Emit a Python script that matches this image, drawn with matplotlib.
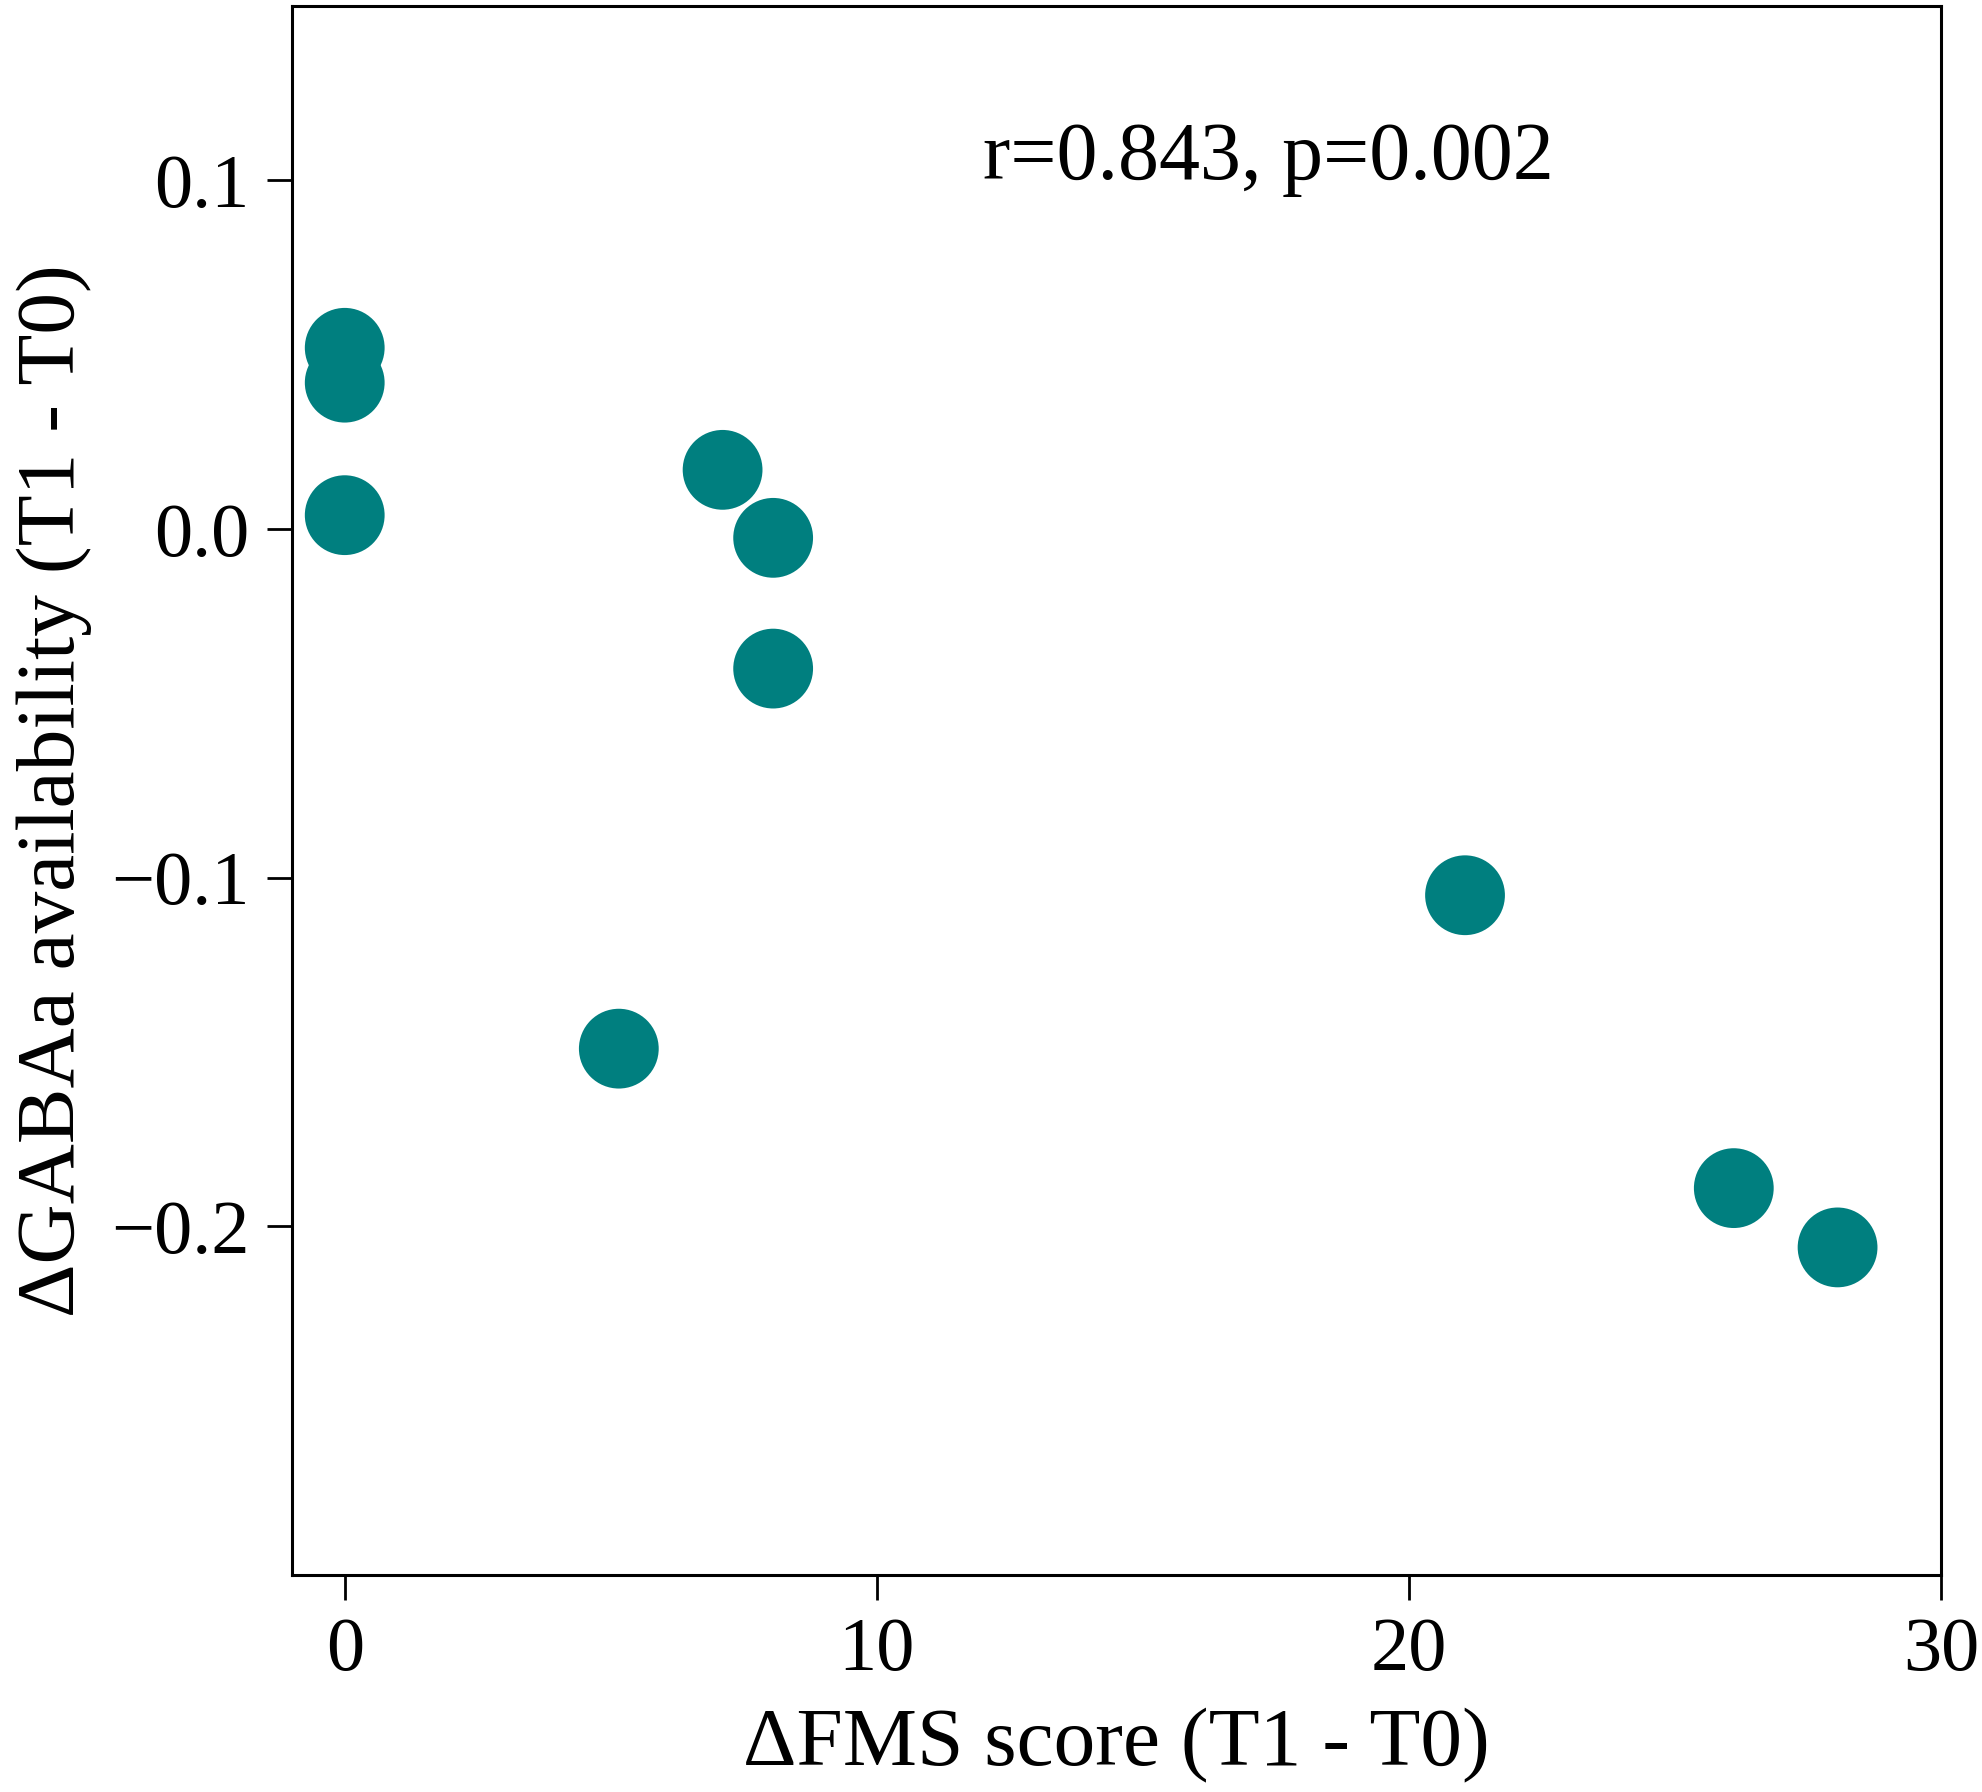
import matplotlib
matplotlib.use("Agg")
import matplotlib.pyplot as plt

plt.rcParams['font.family'] = ['Liberation Serif', 'DejaVu Serif']
plt.rcParams['axes.unicode_minus'] = True

fms_change = [0, 0, 0, 7.1, 8.05, 8.05, 5.15, 21.05, 26.1, 28.05]
gaba_change = [0.052, 0.042, 0.004, 0.017, -0.0025, -0.040, -0.149, -0.105, -0.189, -0.206]
xticks = [0, 10, 20, 30]
yticks = [-0.2, -0.1, 0.0, 0.1]
annotation = "r=0.843, p=0.002"

fig = plt.figure(figsize=(19.83, 17.92), dpi=100)
ax = fig.add_axes([0.147, 0.121, 0.832, 0.8756])
ax.scatter(fms_change, gaba_change, s=3300, color='#007f7f', edgecolors='none', zorder=3)
ax.set_xlim(-1, 30)
ax.set_ylim(-0.3, 0.15)
ax.set_xticks(xticks)
ax.set_yticks(yticks)
ax.set_xticklabels([str(t) for t in xticks])
ax.set_yticklabels(['\u22120.2', '\u22120.1', '0.0', '0.1'])
ax.tick_params(labelsize=55, length=18, width=2, pad=12)
for sp in ax.spines.values():
    sp.set_linewidth(2.2)
ax.set_xlabel('\u0394FMS score (T1 - T0)', fontsize=60, labelpad=16)
ax.set_ylabel('\u0394GABAa availability (T1 - T0)', fontsize=60, labelpad=14)
ax.text(12.0, 0.106, annotation, fontsize=59, ha='left', va='center')
fig.savefig('out.png', dpi=100)
